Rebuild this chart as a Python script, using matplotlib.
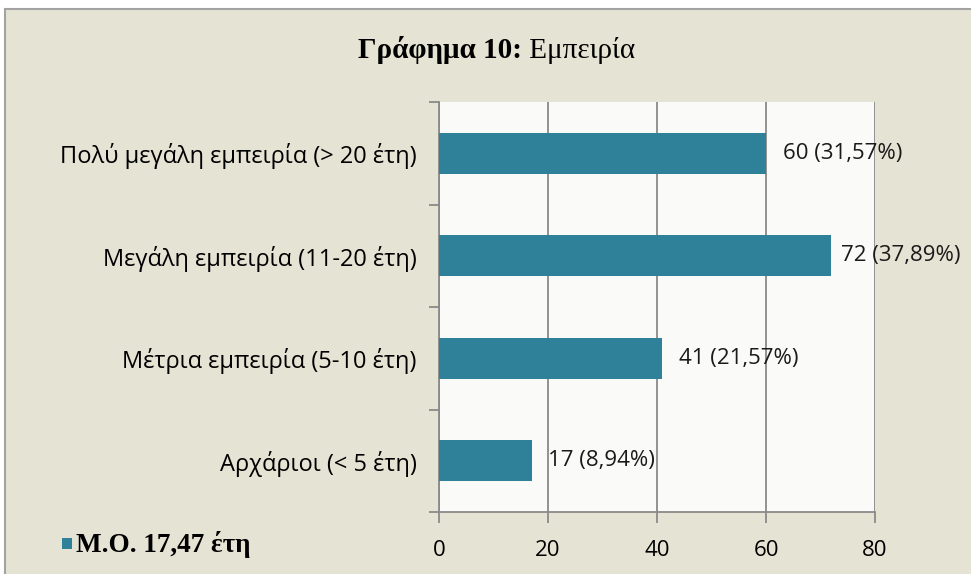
import matplotlib.pyplot as plt
from matplotlib.patches import Rectangle

categories = ["Αρχάριοι (< 5 έτη)", "Μέτρια εμπειρία (5-10 έτη)",
              "Μεγάλη εμπειρία (11-20 έτη)", "Πολύ μεγάλη εμπειρία (> 20 έτη)"]
counts = [17, 41, 72, 60]
percents = ["8,94%", "21,57%", "37,89%", "31,57%"]
xticks = [0, 20, 40, 60, 80]
title_bold = "Γράφημα 10:"
title_rest = " Εμπειρία"
legend_label = "Μ.Ο. 17,47 έτη"

bar_color = "#2E8199"
grid_color = "#8A8A8A"
sans = ["Open Sans", "DejaVu Sans"]
serif = ["Liberation Serif", "DejaVu Serif"]

fig = plt.figure(figsize=(9.71, 5.74), dpi=100)
fig.patch.set_facecolor("white")
frame = Rectangle((5 / 971, -0.01), 1.0, 1 - 9 / 574 + 0.01,
                  transform=fig.transFigure, facecolor="#E5E3D3",
                  edgecolor="#A3A3A3", linewidth=1.5, zorder=-10)
fig.patches.append(frame)

ax = fig.add_axes([439 / 971, 1 - 512 / 574, (875 - 439) / 971, (512 - 102) / 574])
ax.set_facecolor("#FAFAF8")

y = range(len(categories))
ax.barh(y, counts, height=0.4, color=bar_color, zorder=3)
for i, (c, p) in enumerate(zip(counts, percents)):
    # Excel pulls the widest label back in so it stays inside the chart
    off = 7 if c == max(counts) else 12
    ax.annotate(f"{c} ({p})", xy=(c, i), xytext=(off, 0), textcoords="offset points",
                va="center", ha="left", fontsize=16, family=sans, color="#1A1A1A",
                zorder=4, annotation_clip=False)

ax.set_xlim(0, 80)
ax.set_ylim(-0.5, 3.5)
ax.set_xticks(xticks)
ax.set_xticklabels([str(t) for t in xticks], fontsize=16, family=sans)
ax.xaxis.grid(True, color=grid_color, linewidth=1.3)
ax.set_axisbelow(True)

ax.set_yticks([-0.5, 0.5, 1.5, 2.5, 3.5])
ax.set_yticklabels([])
ax.set_yticks(list(y), minor=True)
ax.set_yticklabels(categories, minor=True, fontsize=17, family=sans)
ax.tick_params(axis="y", which="minor", length=0, pad=16)
ax.tick_params(axis="y", which="major", length=7, color=grid_color, width=1.3)
ax.tick_params(axis="x", length=8, color=grid_color, width=1.3, pad=12)

for s in ["top", "right"]:
    ax.spines[s].set_visible(False)
for s in ["left", "bottom"]:
    ax.spines[s].set_color(grid_color)
    ax.spines[s].set_linewidth(1.3)

fig.text(0.538, 1 - 50 / 574, title_bold, ha="right", va="center",
         fontsize=21, fontweight="bold", family=serif)
fig.text(0.538, 1 - 50 / 574, title_rest, ha="left", va="center",
         fontsize=21, family=serif)

fig.patches.append(Rectangle((62 / 971, 1 - 549 / 574), 10 / 971, 11 / 574,
                             transform=fig.transFigure, facecolor=bar_color,
                             edgecolor="none", zorder=2))
fig.text(76 / 971, 1 - 544 / 574, legend_label, ha="left", va="center",
         fontsize=19.5, fontweight="bold", family=serif)

fig.savefig("out.png", dpi=100)
